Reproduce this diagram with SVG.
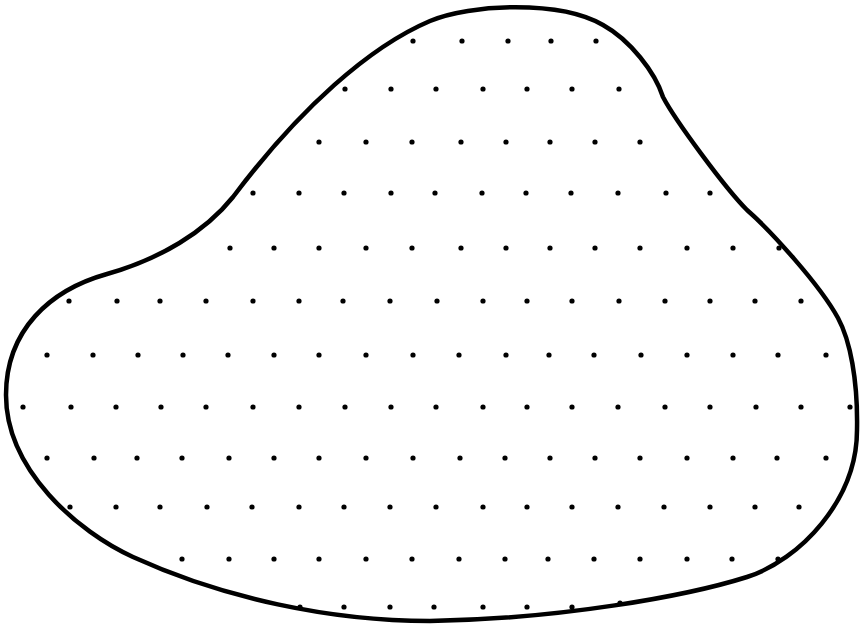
<svg xmlns="http://www.w3.org/2000/svg" width="860" height="628" viewBox="0 0 860 628">
<style>
.outline{fill:none;stroke:#000;stroke-width:4.5;stroke-linejoin:round}
.dots circle{fill:#000}
</style>
<rect width="860" height="628" fill="#fff"/>
<g id="blob">
<path class="outline" d="M430,621 C330,621 223,598 133,557 C78,532 6,470 6,395 C6,330 50,290 107,274 C160,259 205,232 233,197 C300,108 370,46.5 430,21 C470,4 560,0 603,25 C630,40 655,72 663,97 C675,120 725,188 747,210 C770,230 820,285 838,318 C850,340 858,380 857,430 C857,500 800,560 747,577 C687,596 560,619 430,621 Z"/>
</g>
<g id="dots" class="dots">
<!-- y=41 -->
<circle cx="413" cy="41" r="2.6"/><circle cx="462" cy="41" r="2.6"/><circle cx="508" cy="41" r="2.6"/><circle cx="551" cy="41" r="2.6"/><circle cx="596" cy="41" r="2.6"/>
<!-- y=89 -->
<circle cx="345" cy="89" r="2.6"/><circle cx="391" cy="89" r="2.6"/><circle cx="436" cy="89" r="2.6"/><circle cx="483" cy="89" r="2.6"/><circle cx="527" cy="89" r="2.6"/><circle cx="572" cy="89" r="2.6"/><circle cx="619" cy="89" r="2.6"/>
<!-- y=142 -->
<circle cx="319" cy="142" r="2.6"/><circle cx="366" cy="142" r="2.6"/><circle cx="412" cy="142" r="2.6"/><circle cx="461" cy="142" r="2.6"/><circle cx="506" cy="142" r="2.6"/><circle cx="550" cy="142" r="2.6"/><circle cx="595" cy="142" r="2.6"/><circle cx="640" cy="142" r="2.6"/>
<!-- y=193 -->
<circle cx="253" cy="193" r="2.6"/><circle cx="299" cy="193" r="2.6"/><circle cx="344" cy="193" r="2.6"/><circle cx="391" cy="193" r="2.6"/><circle cx="435" cy="193" r="2.6"/><circle cx="482" cy="193" r="2.6"/><circle cx="526" cy="193" r="2.6"/><circle cx="571" cy="193" r="2.6"/><circle cx="618" cy="193" r="2.6"/><circle cx="666" cy="193" r="2.6"/><circle cx="710" cy="193" r="2.6"/>
<!-- y=248 -->
<circle cx="230" cy="248" r="2.6"/><circle cx="274" cy="248" r="2.6"/><circle cx="319" cy="248" r="2.6"/><circle cx="366" cy="248" r="2.6"/><circle cx="412" cy="248" r="2.6"/><circle cx="461" cy="248" r="2.6"/><circle cx="506" cy="248" r="2.6"/><circle cx="550" cy="248" r="2.6"/><circle cx="595" cy="248" r="2.6"/><circle cx="640" cy="248" r="2.6"/><circle cx="687" cy="248" r="2.6"/><circle cx="733" cy="248" r="2.6"/><circle cx="779" cy="248" r="2.6"/>
<!-- y=301 -->
<circle cx="69" cy="301" r="2.6"/><circle cx="117" cy="301" r="2.6"/><circle cx="160" cy="301" r="2.6"/><circle cx="206" cy="301" r="2.6"/><circle cx="253" cy="301" r="2.6"/><circle cx="299" cy="301" r="2.6"/><circle cx="343" cy="301" r="2.6"/><circle cx="390" cy="301" r="2.6"/><circle cx="437" cy="301" r="2.6"/><circle cx="483" cy="301" r="2.6"/><circle cx="527" cy="301" r="2.6"/><circle cx="572" cy="301" r="2.6"/><circle cx="619" cy="301" r="2.6"/><circle cx="665" cy="301" r="2.6"/><circle cx="710" cy="301" r="2.6"/><circle cx="755" cy="301" r="2.6"/><circle cx="801" cy="301" r="2.6"/>
<!-- y=355 -->
<circle cx="47" cy="355" r="2.6"/><circle cx="93" cy="355" r="2.6"/><circle cx="138" cy="355" r="2.6"/><circle cx="183" cy="355" r="2.6"/><circle cx="228" cy="355" r="2.6"/><circle cx="274" cy="355" r="2.6"/><circle cx="319" cy="355" r="2.6"/><circle cx="366" cy="355" r="2.6"/><circle cx="413" cy="355" r="2.6"/><circle cx="459" cy="355" r="2.6"/><circle cx="506" cy="355" r="2.6"/><circle cx="549" cy="355" r="2.6"/><circle cx="594" cy="355" r="2.6"/><circle cx="641" cy="355" r="2.6"/><circle cx="687" cy="355" r="2.6"/><circle cx="733" cy="355" r="2.6"/><circle cx="778" cy="355" r="2.6"/><circle cx="826" cy="355" r="2.6"/>
<!-- y=407 -->
<circle cx="23" cy="407" r="2.6"/><circle cx="71" cy="407" r="2.6"/><circle cx="116" cy="407" r="2.6"/><circle cx="161" cy="407" r="2.6"/><circle cx="206" cy="407" r="2.6"/><circle cx="253" cy="407" r="2.6"/><circle cx="299" cy="407" r="2.6"/><circle cx="345" cy="407" r="2.6"/><circle cx="391" cy="407" r="2.6"/><circle cx="436" cy="407" r="2.6"/><circle cx="483" cy="407" r="2.6"/><circle cx="527" cy="407" r="2.6"/><circle cx="572" cy="407" r="2.6"/><circle cx="618" cy="407" r="2.6"/><circle cx="665" cy="407" r="2.6"/><circle cx="710" cy="407" r="2.6"/><circle cx="756" cy="407" r="2.6"/><circle cx="801" cy="407" r="2.6"/><circle cx="850" cy="407" r="2.6"/>
<!-- y=458 -->
<circle cx="47" cy="458" r="2.6"/><circle cx="94" cy="458" r="2.6"/><circle cx="137" cy="458" r="2.6"/><circle cx="182" cy="458" r="2.6"/><circle cx="229" cy="458" r="2.6"/><circle cx="274" cy="458" r="2.6"/><circle cx="319" cy="458" r="2.6"/><circle cx="366" cy="458" r="2.6"/><circle cx="413" cy="458" r="2.6"/><circle cx="460" cy="458" r="2.6"/><circle cx="505" cy="458" r="2.6"/><circle cx="550" cy="458" r="2.6"/><circle cx="595" cy="458" r="2.6"/><circle cx="640" cy="458" r="2.6"/><circle cx="687" cy="458" r="2.6"/><circle cx="733" cy="458" r="2.6"/><circle cx="777" cy="458" r="2.6"/><circle cx="826" cy="458" r="2.6"/>
<!-- y=507 -->
<circle cx="70" cy="507" r="2.6"/><circle cx="116" cy="507" r="2.6"/><circle cx="160" cy="507" r="2.6"/><circle cx="207" cy="507" r="2.6"/><circle cx="252" cy="507" r="2.6"/><circle cx="299" cy="507" r="2.6"/><circle cx="344" cy="507" r="2.6"/><circle cx="390" cy="507" r="2.6"/><circle cx="436" cy="507" r="2.6"/><circle cx="483" cy="507" r="2.6"/><circle cx="527" cy="507" r="2.6"/><circle cx="572" cy="507" r="2.6"/><circle cx="618" cy="507" r="2.6"/><circle cx="664" cy="507" r="2.6"/><circle cx="710" cy="507" r="2.6"/><circle cx="755" cy="507" r="2.6"/><circle cx="799" cy="507" r="2.6"/>
<!-- y=559 -->
<circle cx="182" cy="559" r="2.6"/><circle cx="229" cy="559" r="2.6"/><circle cx="274" cy="559" r="2.6"/><circle cx="319" cy="559" r="2.6"/><circle cx="366" cy="559" r="2.6"/><circle cx="412" cy="559" r="2.6"/><circle cx="459" cy="559" r="2.6"/><circle cx="505" cy="559" r="2.6"/><circle cx="548" cy="559" r="2.6"/><circle cx="594" cy="559" r="2.6"/><circle cx="640" cy="559" r="2.6"/><circle cx="687" cy="559" r="2.6"/><circle cx="732" cy="559" r="2.6"/><circle cx="778" cy="559" r="2.6"/>
<!-- y=607 -->
<circle cx="300" cy="607" r="2.6"/><circle cx="344" cy="607" r="2.6"/><circle cx="390" cy="607" r="2.6"/><circle cx="434" cy="607" r="2.6"/><circle cx="483" cy="607" r="2.6"/><circle cx="527" cy="607" r="2.6"/><circle cx="572" cy="607" r="2.6"/><circle cx="620" cy="603" r="2.6"/>
</g>
</svg>
